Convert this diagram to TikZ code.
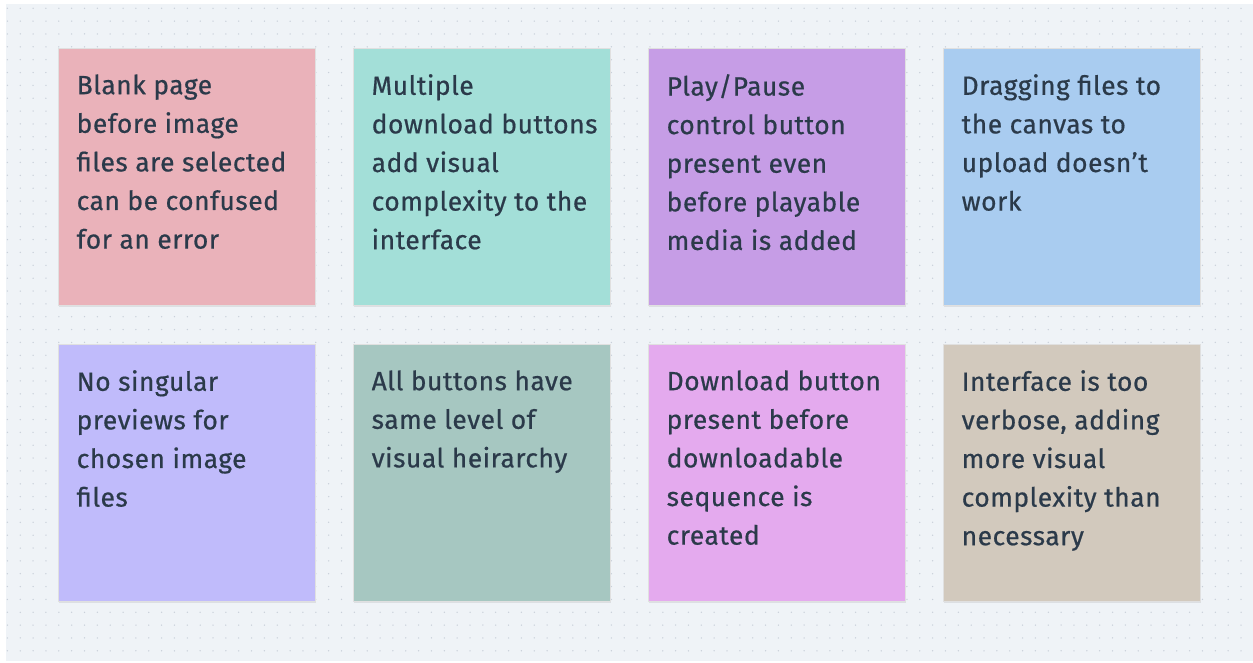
\documentclass[tikz,border=0pt]{standalone}
\usepackage{fontspec}
\setmainfont{Fira Sans}[FakeBold=0.6, LetterSpace=2]
\usetikzlibrary{calc}
\definecolor{canvas}{HTML}{EFF3F7}
\definecolor{dotc}{HTML}{C9D0DA}
\definecolor{ink}{HTML}{2B3A4A}
\definecolor{cPink}{HTML}{EAB2BA}
\definecolor{cTeal}{HTML}{A3DFD8}
\definecolor{cPurple}{HTML}{C69DE6}
\definecolor{cBlue}{HTML}{A9CCF0}
\definecolor{cLav}{HTML}{C0BBFB}
\definecolor{cSage}{HTML}{A6C7C1}
\definecolor{cOrchid}{HTML}{E4AAEE}
\definecolor{cBeige}{HTML}{D2C9BD}
\tikzset{
  sticky/.style={rectangle, anchor=north west, minimum width=257pt, minimum height=257pt,
    inner sep=0pt, draw=black!12, line width=0.6pt},
  note/.style={anchor=north west, align=left, inner sep=0pt, text=ink,
    font=\fontsize{26.4}{38.6}\selectfont},
}
% one sticky note: #1 name, #2 x, #3 y, #4 colour, #5 text
% (the invisible rule fixes the top of the first line 20pt above its baseline)
\newcommand{\stickynote}[5]{%
  \fill[black, opacity=0.08] (#2pt+1pt,-#3pt-1.5pt) rectangle ++(257pt,-257pt);
  \node[sticky, fill=#4] (#1) at (#2pt,-#3pt) {};
  \node[note] (#1t) at ($(#1.north west)+(18.5pt,-26pt)$) {\rule{0pt}{20pt}#5};
}
\begin{document}
\begin{tikzpicture}[x=1pt,y=1pt]
\useasboundingbox (0,0) rectangle (1253,-663);
\fill[white] (0,0) rectangle (1253,-663);
\fill[canvas] (6,-4) rectangle (1253,-661);
% dotted grid
\foreach \i in {0,...,96}{
  \foreach \j in {0,...,50}{
    \fill[dotc] (7.4+12.85*\i,-8.3-12.85*\j) circle (0.75);
  }
}
\stickynote{n1}{58}{48}{cPink}{Blank page\\before image\\files are selected\\can be confused\\for an error}
\stickynote{n2}{353}{48}{cTeal}{Multiple\\download buttons\\add visual\\complexity to the\\interface}
\stickynote{n3}{648}{48}{cPurple}{Play/Pause\\control button\\present even\\before playable\\media is added}
\stickynote{n4}{943}{48}{cBlue}{Dragging files to\\the canvas to\\upload doesn’t\\work}
\stickynote{n5}{58}{344}{cLav}{No singular\\previews for\\chosen image\\files}
\stickynote{n6}{353}{344}{cSage}{All buttons have\\same level of\\visual heirarchy}
\stickynote{n7}{648}{344}{cOrchid}{Download button\\present before\\downloadable\\sequence is\\created}
\stickynote{n8}{943}{344}{cBeige}{Interface is too\\verbose, adding\\more visual\\complexity than\\necessary}
\end{tikzpicture}
\end{document}
